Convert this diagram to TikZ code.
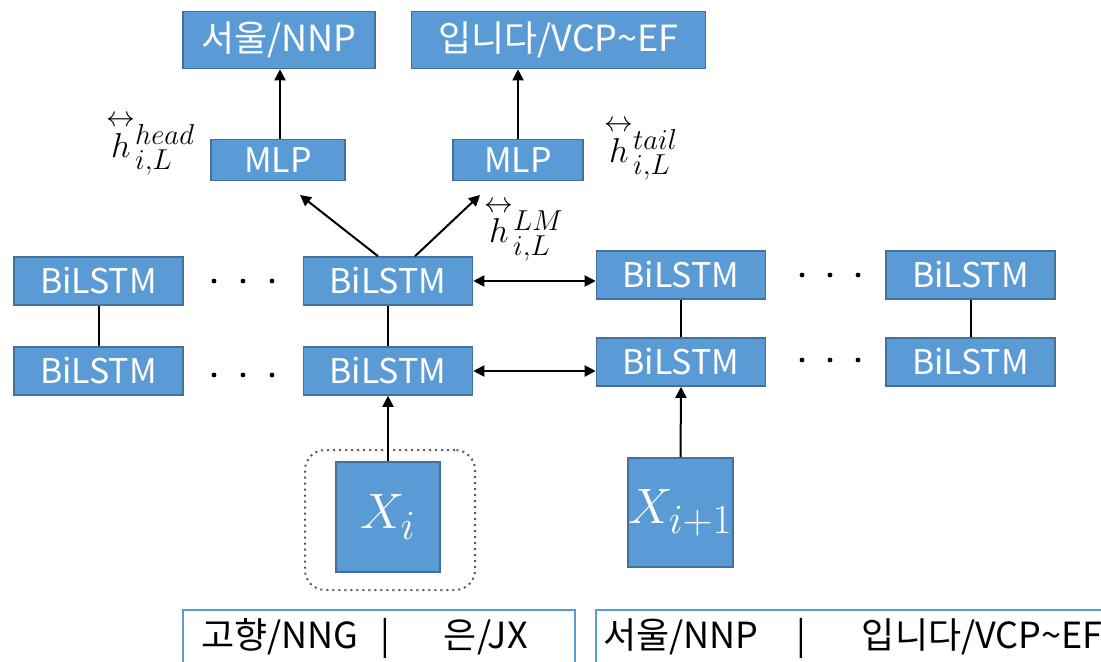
\documentclass[tikz,border=0pt]{standalone}
\usepackage{fontspec}
\usepackage{amsmath}
\newfontfamily\kr{Noto Sans CJK KR}
\usetikzlibrary{arrows.meta}
\definecolor{boxfill}{HTML}{5B9BD5}
\definecolor{boxline}{HTML}{41719C}
\DeclareMathSizes{19}{19}{14}{10}
\newcommand{\hvec}[2]{\smash[t]{\overset{\scriptstyle\leftrightarrow}{h}}^{#1}_{#2}}
\begin{document}
\begin{tikzpicture}[x=0.5pt,y=-0.5pt,
  blk/.style={draw=boxline, fill=boxfill, line width=0.8pt, text=white, inner sep=0pt, font=\kr\fontsize{17}{19}\selectfont},
  topbox/.style={blk, minimum height=28.5pt, font=\kr\fontsize{18}{20}\selectfont},
  mlpbox/.style={blk, minimum height=20.5pt},
  lstm/.style={blk, minimum width=84.5pt, minimum height=24pt},
  xbox/.style={blk, font=\fontsize{28}{30}\selectfont},
  conn/.style={line width=1pt, black},
  arr/.style={conn, -{Triangle[length=5.5pt,width=5.5pt]}},
  darr/.style={conn, {Triangle[length=5.5pt,width=5.5pt]}-{Triangle[length=5.5pt,width=5.5pt]}},
  dotmark/.style={circle, fill=black, inner sep=0pt, minimum size=2.4pt},
  lab/.style={font=\fontsize{19}{21}\selectfont, inner sep=0pt},
  bbox/.style={draw=boxfill, line width=1pt, anchor=north west, align=left, inner xsep=0pt, inner ysep=6pt,
    text height=13pt, text depth=12pt, font=\kr\fontsize{18}{20}\selectfont, text=black}
]
\useasboundingbox (0,0) rectangle (1101,662);
\clip (0,0) rectangle (1101,662);

% top outputs
\node[topbox, minimum width=96pt] (top1) at (279,40) {서울/NNP};
\node[topbox, minimum width=147pt] (top2) at (558.5,40) {입니다/VCP\textasciitilde EF};

% MLPs
\node[mlpbox, minimum width=67pt] (mlp1) at (278,160) {MLP};
\node[mlpbox, minimum width=65pt] (mlp2) at (518,160) {MLP};

% BiLSTM rows
\node[lstm] (bl1) at (98.5,281) {BiLSTM};
\node[lstm] (bm1) at (388,281) {BiLSTM};
\node[lstm] (br1) at (681,275) {BiLSTM};
\node[lstm] (bf1) at (970.5,275) {BiLSTM};
\node[lstm] (bl2) at (98.5,371) {BiLSTM};
\node[lstm] (bm2) at (388,371) {BiLSTM};
\node[lstm] (br2) at (681,362) {BiLSTM};
\node[lstm] (bf2) at (970.5,362) {BiLSTM};

% inputs
\node[draw=gray!70!black, dotted, line width=1pt, rounded corners=10pt, minimum width=85pt, minimum height=70pt] (grp) at (390,520) {};
\node[xbox, minimum width=52pt, minimum height=55pt] (xi) at (388,517) {$X_i$};
\node[xbox, minimum width=52.5pt, minimum height=54.5pt] (xi1) at (680.5,512.5) {$X_{i+1}$};

% dots
\foreach \x [count=\k] in {214,243,272} {
  \node[dotmark] (dl1\k) at (\x,281) {};
  \node[dotmark] (dl2\k) at (\x,375) {};
}
\foreach \x [count=\k] in {802,830,858} {
  \node[dotmark] (dr1\k) at (\x,275) {};
  \node[dotmark] (dr2\k) at (\x,360) {};
}

% labels
\node[lab, anchor=west] (hhead) at (106,150) {$\hvec{head}{i,L}$};
\node[lab, anchor=west] (htail) at (604,155) {$\hvec{tail}{i,L}$};
\node[lab, anchor=west] (hlm) at (484,236) {$\hvec{LM}{i,L}$};

% connectors
\draw[arr] ([xshift=1pt]mlp1.north) -- ([xshift=1pt]mlp1.north |- top1.south);
\draw[arr] (mlp2.north) -- (mlp2.north |- top2.south);
\coordinate (t1) at (300,195);
\coordinate (t2) at (480,195);
\draw[arr] ([xshift=-5pt]bm1.north) -- (t1);
\draw[arr] ([xshift=13.5pt]bm1.north) -- (t2);
\draw[conn] (bl1.south) -- (bl2.north);
\draw[conn] (bm1.south) -- (bm2.north);
\draw[conn] (br1.south) -- (br2.north);
\draw[conn] (bf1.south) -- (bf2.north);
\draw[darr] (bm1.east) -- (bm1.east -| br1.west);
\draw[darr] (bm2.east) -- (bm2.east -| br2.west);
\draw[arr] (xi.north) -- (bm2.south);
\draw[arr] (xi1.north) -- (br2.south);

% bottom word boxes
\node[bbox, minimum width=196pt, text width=196pt] (w1) at (182,609)
  {\hspace{9pt}고향/NNG\hspace{11pt}|\hspace{27pt}은/JX};
\node[bbox, minimum width=260pt, text width=260pt] (w2) at (595,609)
  {\hspace{3.5pt}서울/NNP\hspace{19pt}|\hspace{28pt}입니다/VCP\textasciitilde EF};
\end{tikzpicture}
\end{document}
